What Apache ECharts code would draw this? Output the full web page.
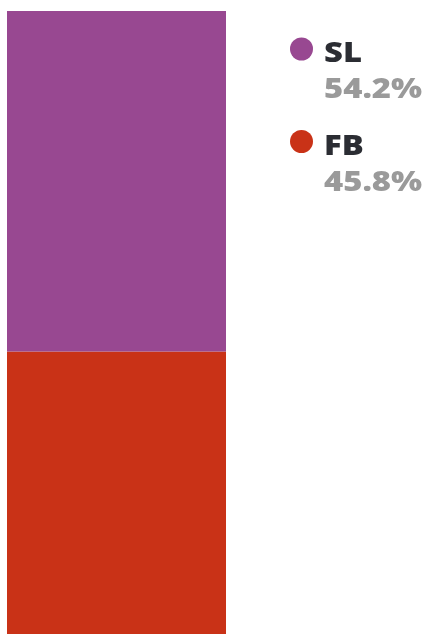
<!DOCTYPE html>
<html>
<head>
<meta charset="utf-8">
<style>
  html, body { margin: 0; padding: 0; background: #fff; }
  #main { width: 428px; height: 634px; }
</style>
<script src="https://cdn.jsdelivr.net/npm/echarts@6/dist/echarts.min.js"></script>
</head>
<body>
<div id="main"></div>
<script>
// data
var names = ['SL', 'FB'];
var shares = [54.2, 45.8];
var colors = ['#984891', '#C93217'];

var chart = echarts.init(document.getElementById('main'));

// bar stack: bottom first (FB), then SL on top
var series = [];
for (var i = names.length - 1; i >= 0; i--) {
  series.push({
    name: names[i],
    type: 'bar',
    stack: 'all',
    barWidth: '100%',
    silent: true,
    itemStyle: { color: colors[i] },
    data: [shares[i]]
  });
}

// legend drawn as graphic items, one block per entry
// font is a bit narrower than the original, so stretch it slightly
var font = '800 29px "Open Sans", sans-serif';
var legendItems = [];
names.forEach(function (n, i) {
  var y0 = 49 + i * 92.5;
  legendItems.push({
    type: 'circle',
    shape: { cx: 301.5, cy: y0, r: 11.5 },
    style: { fill: colors[i] }
  });
  legendItems.push({
    type: 'text',
    x: 324, y: y0 + 5, scaleX: 1.13,
    style: { text: n, fill: '#2b2d33', font: font, verticalAlign: 'middle' }
  });
  legendItems.push({
    type: 'text',
    x: 324, y: y0 + 41, scaleX: 1.13,
    style: { text: shares[i].toFixed(1) + '%', fill: '#9a9a9a', font: font, verticalAlign: 'middle' }
  });
});

chart.setOption({
  animation: false,
  // bar runs a few px past the bottom edge of the picture
  grid: { left: 7, width: 219, top: 11, height: 628, outerBoundsMode: 'none' },
  xAxis: { type: 'category', data: [''], show: false },
  yAxis: { type: 'value', min: 0, max: 100, show: false },
  series: series,
  graphic: legendItems
});
</script>
</body>
</html>
